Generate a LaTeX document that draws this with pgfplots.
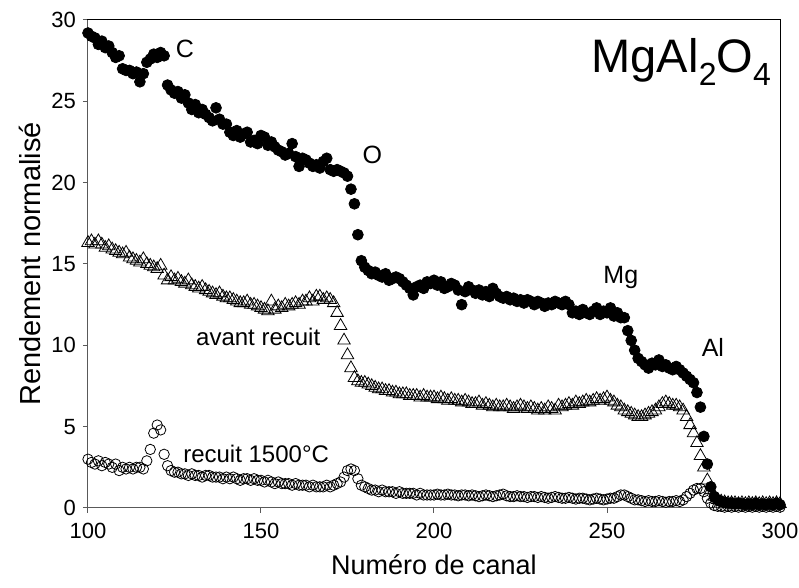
\documentclass[border=0pt]{standalone}
\usepackage{fontspec}
\setmainfont{Liberation Sans}
\usepackage{pgfplots}
\usepackage{pgfplotstable}
\pgfplotsset{compat=1.18}

\pgfplotstableread{
x a b c
100 29.2 16.3 3.0
101 29.0 16.4 2.8
102 28.9 16.2 2.7
103 28.5 16.4 2.9
104 28.7 16.2 2.6
105 28.3 16.0 2.8
106 28.4 16.1 2.7
107 28.0 15.9 2.5
108 27.7 15.8 2.7
109 27.8 15.7 2.3
110 27.0 15.6 2.5
111 26.9 15.7 2.4
112 26.9 15.4 2.5
113 26.7 15.3 2.4
114 26.8 15.2 2.5
115 26.2 15.1 2.5
116 26.7 15.3 2.4
117 27.4 15.0 2.9
118 27.6 14.9 3.6
119 27.9 14.8 4.6
120 27.7 14.7 5.1
121 28.0 14.9 4.8
122 27.8 14.3 3.3
123 26.0 14.0 2.6
124 25.7 14.2 2.3
125 25.5 14.0 2.2
126 25.6 14.1 2.2
127 25.2 13.9 2.1
128 25.4 13.8 2.1
129 24.9 14.0 2.0
130 24.5 13.7 2.1
131 24.8 13.6 2.0
132 24.3 13.5 2.0
133 24.5 13.6 1.9
134 24.2 13.4 2.0
135 24.0 13.3 2.0
136 23.8 13.2 1.9
137 24.6 13.1 1.9
138 23.9 13.2 1.9
139 23.6 13.0 1.8
140 23.6 12.9 1.9
141 23.1 12.9 1.8
142 22.9 12.8 1.9
143 23.2 12.7 1.8
144 22.8 12.6 1.7
145 23.0 12.6 1.8
146 23.1 12.7 1.8
147 22.5 12.5 1.7
148 22.6 12.5 1.8
149 22.4 12.4 1.7
150 22.9 12.3 1.7
151 22.8 12.2 1.6
152 22.3 12.1 1.7
153 22.5 12.7 1.6
154 22.2 12.2 1.5
155 22.0 12.4 1.6
156 21.9 12.3 1.5
157 21.7 12.5 1.5
158 21.8 12.4 1.5
159 22.4 12.5 1.4
160 21.6 12.6 1.5
161 21.0 12.5 1.4
162 21.5 12.7 1.4
163 21.4 12.7 1.4
164 21.2 12.9 1.3
165 21.0 12.7 1.4
166 21.1 13.0 1.3
167 20.9 13.0 1.3
168 21.3 12.8 1.3
169 21.5 12.9 1.4
170 20.8 12.8 1.3
171 20.7 12.6 1.4
172 20.8 12.0 1.5
173 20.7 11.2 1.6
174 20.6 10.3 1.9
175 20.4 9.4 2.3
176 19.6 8.6 2.4
177 18.7 8.0 2.3
178 16.8 7.8 1.8
179 15.2 7.7 1.4
180 14.8 7.7 1.3
181 14.6 7.6 1.2
182 14.4 7.5 1.1
183 14.5 7.4 1.1
184 14.3 7.3 1.0
185 14.2 7.3 1.1
186 14.4 7.2 1.0
187 14.0 7.2 1.0
188 14.1 7.1 1.0
189 14.2 7.1 0.9
190 14.1 7.0 1.0
191 13.9 7.0 0.9
192 13.7 7.0 0.9
193 13.5 6.9 0.9
194 13.1 6.9 0.9
195 13.6 6.9 0.8
196 13.7 6.8 0.9
197 13.5 6.9 0.8
198 13.9 6.8 0.8
199 13.8 6.8 0.8
200 14.0 6.8 0.8
201 13.7 6.7 0.85
202 13.9 6.8 0.8
203 13.5 6.7 0.8
204 13.6 6.6 0.85
205 13.8 6.7 0.8
206 13.7 6.6 0.8
207 13.4 6.6 0.75
208 12.5 6.5 0.8
209 13.3 6.6 0.8
210 13.6 6.5 0.75
211 13.4 6.4 0.8
212 13.2 6.4 0.75
213 13.4 6.5 0.7
214 13.1 6.3 0.75
215 13.3 6.4 0.8
216 13.0 6.3 0.75
217 13.5 6.2 0.7
218 13.2 6.3 0.75
219 13.0 6.2 0.8
220 12.9 6.2 0.85
221 13.0 6.3 0.75
222 12.8 6.2 0.7
223 12.9 6.1 0.7
224 12.7 6.2 0.75
225 12.8 6.3 0.7
226 12.6 6.2 0.7
227 12.8 6.1 0.65
228 12.7 6.2 0.7
229 12.5 6.1 0.7
230 12.7 6.0 0.65
231 12.6 6.1 0.7
232 12.4 6.0 0.65
233 12.6 6.2 0.6
234 12.5 6.1 0.65
235 12.7 6.0 0.7
236 12.6 6.3 0.65
237 12.5 6.2 0.6
238 12.7 6.3 0.6
239 12.5 6.4 0.65
240 12.0 6.3 0.6
241 12.1 6.5 0.55
242 11.9 6.4 0.6
243 12.2 6.5 0.6
244 12.0 6.6 0.55
245 11.9 6.5 0.5
246 12.1 6.6 0.55
247 12.3 6.7 0.6
248 11.9 6.6 0.55
249 12.1 6.7 0.5
250 12.0 6.8 0.55
251 12.3 6.6 0.6
252 11.8 6.5 0.6
253 12.0 6.3 0.7
254 11.7 6.2 0.8
255 11.7 6.0 0.8
256 10.9 5.9 0.7
257 10.3 5.8 0.6
258 9.7 5.7 0.5
259 9.2 5.6 0.5
260 9.0 5.6 0.45
261 8.8 5.7 0.4
262 8.6 5.8 0.45
263 8.9 5.9 0.4
264 8.8 6.0 0.4
265 9.1 6.2 0.45
266 8.7 6.4 0.4
267 8.8 6.5 0.35
268 8.6 6.4 0.4
269 8.5 6.3 0.4
270 8.7 6.3 0.45
271 8.5 6.2 0.4
272 8.3 6.0 0.5
273 8.1 5.6 0.7
274 7.9 5.1 0.9
275 7.7 4.6 1.1
276 7.1 4.0 1.2
277 6.2 3.2 1.2
278 4.4 2.5 1.0
279 2.7 1.7 0.6
280 1.3 1.1 0.3
281 0.7 0.7 0.15
282 0.5 0.5 0.1
283 0.4 0.4 0.1
284 0.35 0.35 0.05
285 0.3 0.3 0.1
286 0.3 0.3 0.05
287 0.25 0.3 0.1
288 0.3 0.25 0.05
289 0.25 0.3 0.1
290 0.2 0.25 0.05
291 0.25 0.3 0.1
292 0.2 0.25 0.05
293 0.3 0.3 0.1
294 0.2 0.25 0.05
295 0.25 0.3 0.1
296 0.2 0.25 0.05
297 0.25 0.3 0.1
298 0.2 0.25 0.05
299 0.3 0.3 0.1
300 0.2 0.25 0.05
}\datatable

\begin{document}
\begin{tikzpicture}
\begin{axis}[
  scale only axis, width=346pt, height=244pt,
  xmin=100, xmax=300, ymin=0, ymax=30,
  xtick={100,150,...,300}, ytick={0,5,...,30},
  tick align=outside, xtick pos=left, ytick pos=left,
  major tick length=2.5pt,
  tick style={gray!70!black, line width=0.5pt},
  axis line style={black, line width=0.5pt},
  ticklabel style={font=\fontsize{11}{13}\selectfont},
  xticklabel style={yshift=-1.5pt},
  /pgf/number format/assume math mode=true,
  xlabel={Numéro de canal}, ylabel={Rendement normalisé},
  xlabel style={font=\fontsize{13.5}{15}\selectfont, at={(axis description cs:0.5,-0.117)}, anchor=center},
  ylabel style={font=\fontsize{14.5}{17}\selectfont, at={(axis description cs:-0.0838,0.5)}, anchor=center},
  clip=false,
]
\draw[gray!70!black, line width=0.5pt] (rel axis cs:0,1) -- (rel axis cs:0,0) -- (rel axis cs:1,0);
\addplot[only marks, mark=o, mark size=2.6pt, mark options={black, line width=0.4pt}] table[x=x, y=c] {\datatable};
\addplot[only marks, mark=triangle, mark size=3.6pt, mark options={black, line width=0.4pt}] table[x=x, y=b] {\datatable};
\addplot[only marks, mark=*, mark size=2.7pt, mark options={black, fill=black}] table[x=x, y=a] {\datatable};
\node[font=\fontsize{12.5}{14}\selectfont] at (axis cs:128,28.2) {C};
\node[font=\fontsize{12.5}{14}\selectfont] at (axis cs:182.2,21.7) {O};
\node[font=\fontsize{12.5}{14}\selectfont] at (axis cs:254,14.2) {Mg};
\node[font=\fontsize{12.5}{14}\selectfont] at (axis cs:280.6,9.9) {Al};
\node[font=\fontsize{12}{14}\selectfont] at (axis cs:149.2,10.5) {avant recuit};
\node[font=\fontsize{12}{14}\selectfont] at (axis cs:148.6,3.3) {recuit 1500°C};
\node[font=\fontsize{23.5}{26}\selectfont, anchor=east, inner sep=0pt] at (axis cs:297.5,27.4) {MgAl\raisebox{-0.28em}{\fontsize{16}{18}\selectfont 2}O\raisebox{-0.28em}{\fontsize{16}{18}\selectfont 4}};
\end{axis}
\pgfresetboundingbox
\path[use as bounding box] ([shift={(-44pt,-40pt)}]current axis.south west) rectangle ([shift={(9.5pt,10pt)}]current axis.north east);
\end{tikzpicture}
\end{document}
